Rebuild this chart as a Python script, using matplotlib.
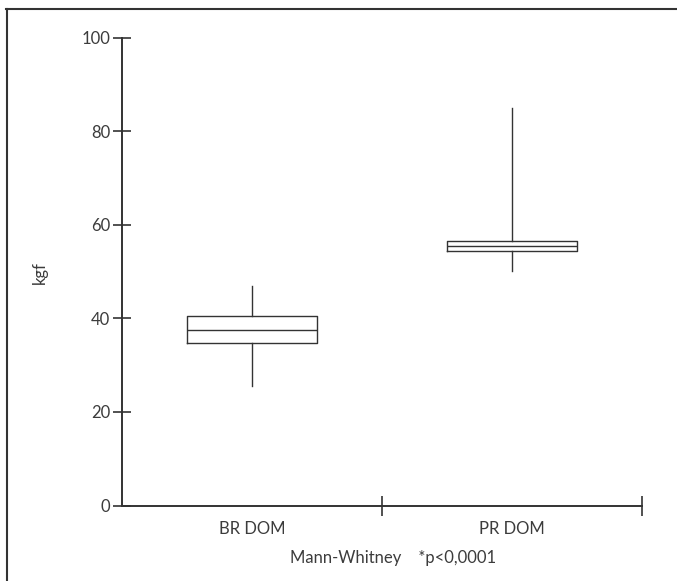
import matplotlib
matplotlib.use('Agg')
import matplotlib.pyplot as plt
from matplotlib.lines import Line2D

plt.rcParams['font.family'] = ['Lato', 'DejaVu Sans']

# values (kgf)
groups = ['BR DOM', 'PR DOM']
whisker_lo = [25.6, 50.2]
q1 = [34.8, 54.3]
median = [37.4, 55.4]
q3 = [40.4, 56.6]
whisker_hi = [47.0, 85.0]
y_ticks = [0, 20, 40, 60, 80, 100]

ink = '#333333'
text_ink = '#3c3c3c'
fs = 12

fig = plt.figure(figsize=(6.77, 5.81), dpi=100)
ax = fig.add_axes([122 / 677, 1 - 505.5 / 581, 520 / 677, 468 / 581])

stats = []
for i, g in enumerate(groups):
    stats.append({'label': g, 'whislo': whisker_lo[i], 'q1': q1[i], 'med': median[i],
                  'q3': q3[i], 'whishi': whisker_hi[i], 'fliers': []})

pos = [i + 0.5 for i in range(len(groups))]
ax.bxp(stats, positions=pos, widths=0.5, showcaps=False, showfliers=False,
       boxprops=dict(color=ink, linewidth=1.0),
       medianprops=dict(color=ink, linewidth=1.0),
       whiskerprops=dict(color=ink, linewidth=1.0))

ax.set_xlim(0, len(groups))
ax.set_ylim(0, 100)

for s in ['top', 'right']:
    ax.spines[s].set_visible(False)
for s in ['left', 'bottom']:
    ax.spines[s].set_color(ink)
    ax.spines[s].set_linewidth(1.4)

ax.set_yticks(y_ticks)
ax.set_yticklabels([str(v) for v in y_ticks])
ax.tick_params(axis='y', direction='inout', length=13, width=1.2, color=ink,
               labelsize=fs, labelcolor=text_ink, pad=2)

ax.set_xticks([1, 2])
ax.set_xticklabels(['', ''])
ax.set_xticks(pos, minor=True)
ax.set_xticklabels(groups, minor=True)
ax.tick_params(axis='x', which='major', direction='inout', length=14, width=1.2, color=ink)
ax.tick_params(axis='x', which='minor', length=0, labelsize=fs, labelcolor=text_ink, pad=11)

fig.text(40 / 677, 1 - 273 / 581, 'kgf', rotation=90, ha='center', va='center',
         fontsize=fs, color=text_ink)
fig.text(393 / 677, 1 - 558 / 581, 'Mann-Whitney    *p<0,0001', ha='center', va='center',
         fontsize=fs, color=text_ink)

# outer frame (top and left edges only)
fig.add_artist(Line2D([6 / 677, 1], [1 - 9 / 581, 1 - 9 / 581], transform=fig.transFigure,
                      color=ink, linewidth=1.5))
fig.add_artist(Line2D([7 / 677, 7 / 677], [0, 1 - 9 / 581], transform=fig.transFigure,
                      color=ink, linewidth=1.5))

fig.savefig('out.png', dpi=100)
